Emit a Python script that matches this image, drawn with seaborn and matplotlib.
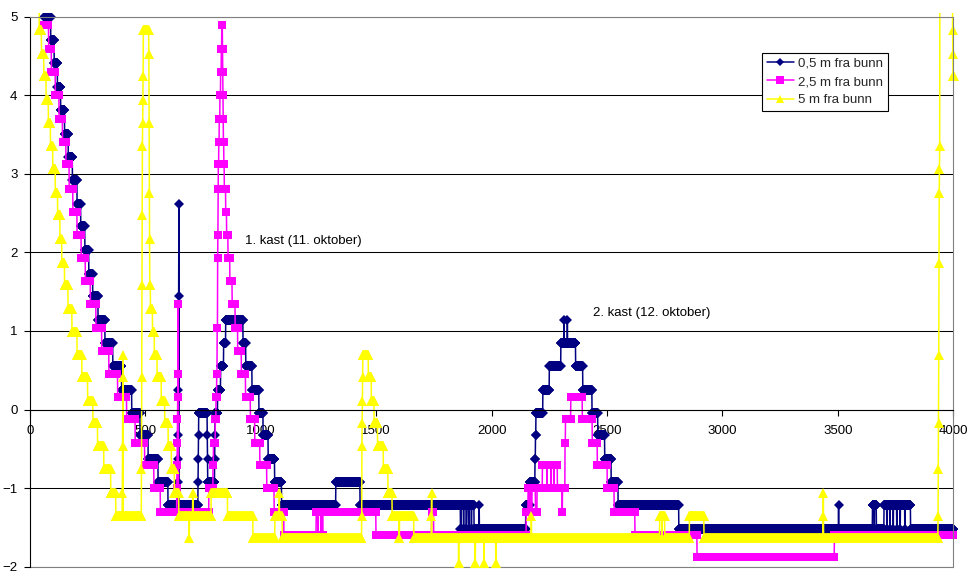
import numpy as np
import pandas as pd
import matplotlib
matplotlib.use("Agg")
import matplotlib.pyplot as plt
from matplotlib.transforms import Bbox, TransformedBbox
import seaborn as sns

# ---------------- data (run-length encoded: sample index where a value starts, value) ----------------
series_names = ["0,5 m fra bunn", "2,5 m fra bunn", "5 m fra bunn"]

navy_start = [62, 90, 105, 119, 133, 150, 166, 184, 204, 220, 238, 255, 272, 295, 325, 359, 397, 441, 477, 512, 555, 598,
              640, 641, 642, 643, 644, 645, 646,
              728, 729, 730, 731, 768, 769, 770, 800, 801, 802, 813, 826, 839, 848, 923, 935, 962, 992, 1010, 1032, 1060,
              1090, 1325, 1430,
              1865, 1868, 1878, 1880, 1890, 1892, 1900, 1903, 1912, 1914, 1924, 1946, 1947,
              2148, 2165, 2188, 2190, 2192, 2222, 2250, 2300, 2313, 2314, 2328, 2329, 2364, 2395, 2435, 2460, 2490, 2518,
              2548, 2811,
              3503, 3504, 3650, 3658, 3659, 3667, 3700, 3712, 3713, 3725, 3726, 3740, 3741, 3755, 3756, 3770, 3771, 3790,
              3791, 3815]
navy_value = [5.00, 4.70, 4.41, 4.11, 3.81, 3.51, 3.22, 2.92, 2.62, 2.33, 2.03, 1.73, 1.44, 1.14, 0.85, 0.55, 0.25, -0.04, -0.33, -0.63, -0.92, -1.22,
              -0.92, -0.63, -0.33, 0.25, 1.44, 2.62, -1.22,
              -0.92, -0.63, -0.33, -0.04, -0.33, -0.63, -0.92, -0.63, -0.33, -0.04, 0.25, 0.55, 0.85, 1.14, 0.85, 0.55, 0.25, -0.04, -0.33, -0.63, -0.92,
              -1.22, -0.92, -1.22,
              -1.52, -1.22, -1.52, -1.22, -1.52, -1.22, -1.52, -1.22, -1.52, -1.22, -1.52, -1.22, -1.52,
              -1.22, -0.92, -0.63, -0.33, -0.04, 0.25, 0.55, 0.85, 1.14, 0.85, 1.14, 0.85, 0.55, 0.25, -0.04, -0.33, -0.63, -0.92,
              -1.22, -1.52,
              -1.22, -1.52, -1.22, -1.52, -1.22, -1.52, -1.22, -1.52, -1.22, -1.52, -1.22, -1.52, -1.22, -1.52, -1.22, -1.52, -1.22, -1.52,
              -1.22, -1.52]
navy_end = 4000

pink_start = [58, 81, 93, 110, 126, 141, 156, 170, 186, 204, 222, 240, 262, 286, 311, 342, 380, 419, 456, 497, 537, 565,
              636, 637, 638, 639, 640, 641, 642, 643,
              775, 793, 795, 803, 806, 809, 811, 813, 814, 815, 816, 818, 820, 823, 826, 829, 831, 834, 835, 836, 837, 838,
              840, 842, 848, 852, 858, 866, 876, 889, 900, 916, 934, 955, 974, 996, 1026, 1058, 1100,
              1240, 1247, 1248, 1260, 1261, 1267, 1269, 1499, 1740, 1749,
              2150, 2158, 2163, 2166, 2172, 2175, 2190, 2197, 2220, 2240, 2241, 2258, 2259, 2270, 2271, 2285, 2306, 2307,
              2318, 2320, 2343, 2393, 2436, 2458, 2501, 2531, 2621, 2890, 3485]
pink_value = [4.89, 4.59, 4.29, 4.00, 3.70, 3.41, 3.12, 2.81, 2.52, 2.22, 1.93, 1.63, 1.34, 1.04, 0.74, 0.45, 0.16, -0.12, -0.42, -0.71, -1.00, -1.31,
              -1.00, -0.71, -0.42, -0.12, 0.16, 0.45, 1.34, -1.31,
              -1.00, -0.71, -0.42, -0.12, 0.16, 0.45, 1.04, 1.93, 2.22, 2.81, 3.12, 3.41, 3.70, 4.00, 4.29, 4.59, 4.89, 4.59, 4.29, 4.00, 3.70, 3.41,
              3.12, 2.81, 2.52, 2.22, 1.93, 1.63, 1.34, 1.04, 0.74, 0.45, 0.16, -0.12, -0.42, -0.71, -1.00, -1.31, -1.60,
              -1.31, -1.60, -1.31, -1.60, -1.31, -1.60, -1.31, -1.60, -1.31, -1.60,
              -1.31, -1.00, -1.31, -1.00, -1.31, -1.00, -1.31, -1.00, -0.71, -1.00, -0.71, -1.00, -0.71, -1.00, -0.71, -1.00, -1.31, -1.00,
              -0.42, -0.12, 0.16, -0.12, -0.42, -0.71, -1.00, -1.31, -1.60, -1.88, -1.60]
pink_end = 4000

yellow_start = [36, 40, 50, 60, 70, 80, 89, 99, 110, 120, 130, 138, 150, 165, 182, 204, 225, 250, 273, 293, 320, 350, 372,
                400, 401, 402, 403, 404,
                483, 484, 485, 486, 487, 488, 489, 490, 491, 515, 516, 517, 518, 519, 522, 531, 539, 551, 569, 584, 599,
                613, 626, 645, 690, 691, 705, 706, 785, 856, 966, 1061, 1080, 1081, 1093,
                1437, 1438, 1439, 1440, 1441, 1442, 1466, 1479, 1491, 1506, 1531, 1551, 1569, 1599, 1601, 1663,
                1739, 1740, 1741, 1857, 1858, 1929, 1930, 1967, 1968, 2018, 2019, 2172, 2173,
                2728, 2738, 2739, 2750, 2857, 2920, 3436, 3437, 3438,
                3934, 3935, 3936, 3937, 3938, 3939, 3940, 3941, 3942, 3997, 3998, 3999, 4003]
yellow_value = [5.60, 4.83, 4.53, 4.24, 3.94, 3.65, 3.35, 3.06, 2.76, 2.47, 2.17, 1.87, 1.58, 1.28, 0.99, 0.70, 0.41, 0.11, -0.17, -0.47, -0.76, -1.06, -1.36,
                -1.06, -0.47, 0.41, 0.70, -1.36,
                -0.76, 0.41, 1.58, 2.47, 3.35, 3.65, 3.94, 4.24, 4.83, 4.53, 3.65, 2.76, 2.17, 1.58, 1.28, 0.99, 0.70, 0.41, 0.11, -0.17, -0.47,
                -0.76, -1.06, -1.36, -1.63, -1.36, -1.06, -1.36, -1.06, -1.36, -1.63, -1.36, -1.06, -1.36, -1.63,
                -1.36, -0.47, -0.17, 0.11, 0.41, 0.70, 0.41, 0.11, -0.17, -0.47, -0.76, -1.06, -1.36, -1.63, -1.36, -1.63,
                -1.36, -1.06, -1.63, -1.95, -1.63, -1.95, -1.63, -1.95, -1.63, -1.95, -1.63, -1.36, -1.63,
                -1.36, -1.63, -1.36, -1.63, -1.36, -1.63, -1.36, -1.06, -1.63,
                -1.36, -0.76, -0.17, 0.70, 1.87, 2.76, 3.06, 3.35, 5.60, 4.83, 4.53, 4.24, 1.87]
yellow_end = 4003

x_ticks = [0, 500, 1000, 1500, 2000, 2500, 3000, 3500, 4000]
y_ticks = [-2, -1, 0, 1, 2, 3, 4, 5]
annotations = ["1. kast (11. oktober)", "2. kast (12. oktober)"]
annotation_x = [931, 2439]
annotation_y = [2.14, 1.225]


def decode(starts, values, end):
    """Expand run-length encoded samples (hold each read value until the next run)."""
    xs = np.arange(starts[0], end + 1)
    idx = np.searchsorted(np.asarray(starts), xs, side="right") - 1
    return xs, np.asarray(values)[idx]


frames = []
for name, s, v, e in [(series_names[0], navy_start, navy_value, navy_end),
                      (series_names[1], pink_start, pink_value, pink_end),
                      (series_names[2], yellow_start, yellow_value, yellow_end)]:
    xs, ys = decode(s, v, e)
    frames.append(pd.DataFrame({"sample": xs, "value": ys, "series": name}))
df = pd.concat(frames, ignore_index=True)

# ---------------- styling ----------------
sns.set_theme(style="white")
plt.rcParams["font.family"] = ["Liberation Sans", "DejaVu Sans"]
plt.rcParams["font.size"] = 9.5

W, H = 970, 573
fig = plt.figure(figsize=(W / 100, H / 100), dpi=100)
px_l, px_r, py_t, py_b = 30, 953.3, 16.7, 566.7
ax = fig.add_axes([px_l / W, 1 - py_b / H, (px_r - px_l) / W, (py_b - py_t) / H])

colors = ["#000080", "#FF00FF", "#FFFF00"]
markers = ["D", "s", "^"]
msizes = [4.6, 6.2, 6.8]

for name, c, m, ms in zip(series_names, colors, markers, msizes):
    sub = df[df["series"] == name]
    sns.lineplot(data=sub, x="sample", y="value", ax=ax, color=c, marker=m, markersize=ms,
                 markeredgewidth=0, linewidth=1.1, estimator=None, sort=False, errorbar=None,
                 label=name)

ax.set_xlim(0, 4000)
ax.set_ylim(-2, 5)
ax.set_xticks(x_ticks)
ax.set_yticks(y_ticks)
ax.set_xlabel("")
ax.set_ylabel("")

# let lines slightly overshoot the plot area like the original
clip = TransformedBbox(Bbox([[-0.01, -0.02], [1.006, 1.006]]), ax.transAxes)
for ln in ax.lines:
    ln.set_clip_path(None)
    ln.set_clip_box(clip)

ax.yaxis.grid(True, color="black", linewidth=0.75)
ax.xaxis.grid(False)
ax.set_axisbelow(True)

for side in ["top", "right"]:
    ax.spines[side].set_color("#808080")
    ax.spines[side].set_linewidth(0.8)
ax.spines["left"].set_color("black")
ax.spines["left"].set_linewidth(0.8)
ax.spines["bottom"].set_position(("data", 0))
ax.spines["bottom"].set_color("black")
ax.spines["bottom"].set_linewidth(0.8)
ax.axhline(-2, color="#808080", linewidth=0.8, zorder=0.5, clip_on=False)

ax.tick_params(axis="x", direction="out", length=4, width=0.8, pad=7, labelsize=9.5, colors="black")
ax.tick_params(axis="y", direction="out", length=4, width=0.8, pad=5, labelsize=9.5, colors="black")
ax.tick_params(axis="x", bottom=True)
ax.tick_params(axis="y", left=True)

for t, x, y in zip(annotations, annotation_x, annotation_y):
    ax.text(x, y, t, fontsize=9.5, ha="left", va="center", color="black")

leg = ax.legend(loc="upper left", bbox_to_anchor=(762 / W, 1 - 53 / H), bbox_transform=fig.transFigure,
                borderaxespad=0, frameon=True, fancybox=False, framealpha=1, edgecolor="black",
                fontsize=9.5, handlelength=2.1, handletextpad=0.3, borderpad=0.35, labelspacing=0.45)
leg.get_frame().set_linewidth(0.8)
for h in leg.legend_handles:
    h.set_markersize(h.get_markersize() * 0.85)

fig.savefig("out.png", dpi=100)
